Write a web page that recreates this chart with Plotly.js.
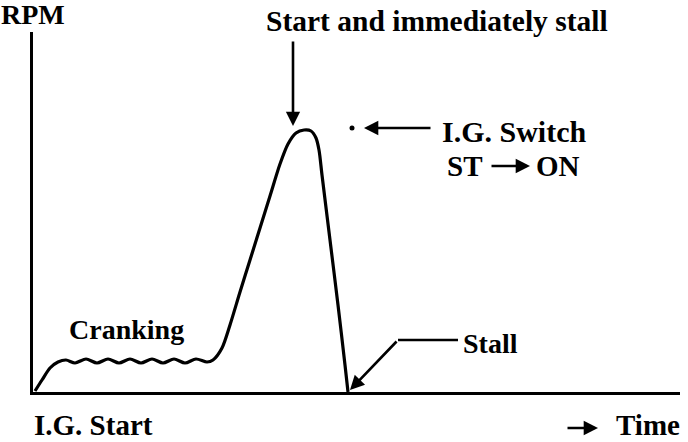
<!DOCTYPE html>
<html>
<head>
<meta charset="utf-8">
<script src="https://cdn.plot.ly/plotly-3.0.1.min.js"></script>
<style>html,body{margin:0;padding:0;background:#fff;}#chart{width:688px;height:442px;}</style>
</head>
<body>
<div id="chart"></div>
<script>
// Time (arbitrary units) and engine speed (arbitrary units)
const time = [2, 9, 17, 25, 33, 42, 53, 64, 75, 86, 97, 108, 119, 130, 141, 152, 163, 174, 180, 189, 197, 207, 217, 227, 237, 247, 255, 263, 271, 278, 283, 286, 289, 297, 305, 312, 315];
const rpm  = [1, 12, 24, 30, 32, 29, 33, 29, 33, 29, 33, 29, 33, 29, 33, 29, 33, 30, 32, 44, 67, 100, 132, 164, 196, 228, 248, 259, 262, 261, 254, 242, 217, 152, 87, 27, 0];

const FONT = "'Liberation Serif', 'Times New Roman', Times, serif";
const L = 33, T = 32, W = 647, H = 360;
const pxX = v => (v - L) / W;          // pixel -> paper, for layout placement only
const pxY = v => (T + H - v) / H;
const dX = v => v - L;                 // pixel -> axis units, for arrows inside the frame
const dY = v => T + H - v;

function txt(text, x, y, size, anchor, vanchor) {
  return {text: text, x: pxX(x), y: pxY(y), xref: 'paper', yref: 'paper', showarrow: false,
          xanchor: anchor || 'center', yanchor: vanchor || 'middle', borderpad: 0,
          font: {family: FONT, size: size, color: '#000', weight: 'bold'}};
}
function arr(x0, y0, x1, y1) {
  return {text: '', x: dX(x1), y: dY(y1), ax: dX(x0), ay: dY(y0), xref: 'x', yref: 'y',
          axref: 'x', ayref: 'y', showarrow: true, arrowhead: 2, arrowsize: 1.1,
          arrowwidth: 2.6, arrowcolor: '#000', standoff: 0, startstandoff: 0};
}

const data = [{
  x: time, y: rpm, type: 'scatter', mode: 'lines',
  line: {color: '#000', width: 3.2, shape: 'spline', smoothing: 0.8},
  hoverinfo: 'skip', cliponaxis: false
}, {
  x: [dX(352)], y: [dY(128)], type: 'scatter', mode: 'markers',
  marker: {color: '#000', size: 5}, hoverinfo: 'skip', cliponaxis: false
}];

const layout = {
  width: 688, height: 442,
  margin: {l: L, r: 688 - L - W, t: T, b: 442 - T - H},
  paper_bgcolor: '#fff', plot_bgcolor: '#fff',
  showlegend: false,
  xaxis: {range: [0, W], showline: true, linewidth: 3, linecolor: '#000', showgrid: false,
          zeroline: false, showticklabels: false, ticks: ''},
  yaxis: {range: [0, H], showline: true, linewidth: 3, linecolor: '#000', showgrid: false,
          zeroline: false, showticklabels: false, ticks: ''},
  shapes: [
    {type: 'line', xref: 'x', yref: 'y', x0: dX(398), y0: dY(340), x1: dX(458), y1: dY(340),
     line: {color: '#000', width: 2.6}}
  ],
  annotations: [
    txt('RPM', 0, 15, 28, 'left'),
    txt('Start and immediately stall', 437, 21, 29.5),
    arr(293, 40, 293, 126),
    arr(432, 128, 364, 128),
    txt('I.G. Switch', 514, 131, 30),
    txt('ST', 464, 166, 29),
    arr(490, 166, 530, 166),
    txt('ON', 558, 166, 29),
    txt('Cranking', 126, 329, 28),
    txt('Stall', 490, 343, 28),
    arr(398, 340, 350, 390),
    txt('I.G. Start', 33, 442, 29, 'left', 'bottom'),
    {text: '', x: pxX(598), y: pxY(428), xref: 'paper', yref: 'paper', ax: -32, ay: 0,
     showarrow: true, arrowhead: 2, arrowsize: 1.1, arrowwidth: 2.6, arrowcolor: '#000',
     standoff: 0, startstandoff: 0},
    txt('Time', 681, 442, 29, 'right', 'bottom')
  ]
};

Plotly.newPlot('chart', data, layout, {staticPlot: true, displayModeBar: false});
</script>
</body>
</html>
